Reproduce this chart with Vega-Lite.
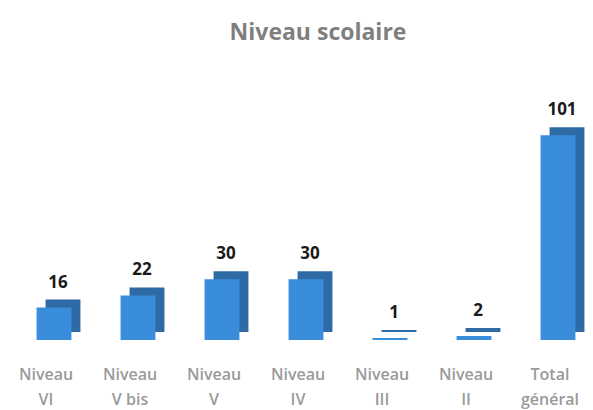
{
  "$schema": "https://vega.github.io/schema/vega-lite/v6.json",
  "autosize": "none",
  "width": 588,
  "height": 223,
  "padding": {"left": 4, "top": 117, "right": 1, "bottom": 70},
  "background": "white",
  "config": {"view": {"stroke": null}},
  "title": {"text": "Niveau scolaire", "font": "Open Sans", "fontSize": 23, "fontWeight": "bold", "color": "#7f7f7f", "offset": 56, "anchor": "middle", "dx": 20},
  "data": {"values": [
    {"niveau": "Niveau VI", "effectif": 16},
    {"niveau": "Niveau V bis", "effectif": 22},
    {"niveau": "Niveau V", "effectif": 30},
    {"niveau": "Niveau IV", "effectif": 30},
    {"niveau": "Niveau III", "effectif": 1},
    {"niveau": "Niveau II", "effectif": 2},
    {"niveau": "Total général", "effectif": 101}
  ]},
  "encoding": {
    "x": {"field": "niveau", "type": "nominal", "sort": null,
      "scale": {"paddingInner": 0.5, "paddingOuter": 0.25},
      "axis": {"title": null, "domain": false, "ticks": false, "labelAngle": 0, "labelPadding": 26,
        "labelFont": "Open Sans", "labelFontSize": 16, "labelFontWeight": 600, "labelColor": "#9a9a9a", "labelLineHeight": 25,
        "labelExpr": "[slice(datum.label,0,indexof(datum.label,' ')), slice(datum.label,indexof(datum.label,' ')+1)]"}},
    "y": {"field": "effectif", "type": "quantitative", "scale": {"domain": [0, 110]}, "axis": null}
  },
  "layer": [
    {"mark": {"type": "bar", "color": "#2e6aa6", "xOffset": 17, "yOffset": -8, "y2Offset": -8, "width": {"band": 0.83}}},
    {"mark": {"type": "bar", "color": "#3a8ddb", "xOffset": 8, "width": {"band": 0.83}}},
    {"mark": {"type": "text", "font": "Open Sans", "fontSize": 17, "fontWeight": "bold", "color": "#1a1a1a", "dy": -16, "xOffset": 12, "baseline": "bottom"},
     "encoding": {"text": {"field": "effectif", "type": "quantitative"}}}
  ]
}
